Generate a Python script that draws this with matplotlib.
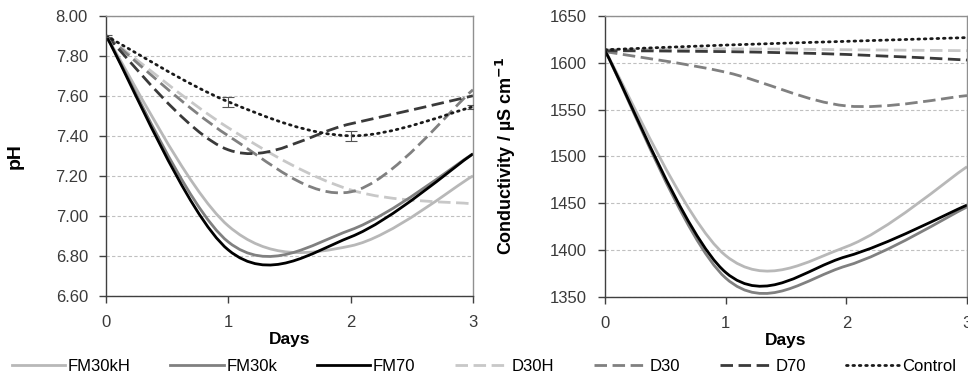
import matplotlib
matplotlib.use("Agg")
import matplotlib.pyplot as plt
from matplotlib.path import Path
from matplotlib.patches import PathPatch
from matplotlib.lines import Line2D

plt.rcParams['font.family'] = ['Liberation Sans', 'DejaVu Sans']

# data: sampling days and the measured values per treatment
days = [0, 1, 2, 3]
series = ['FM30kH', 'FM30k', 'FM70', 'D30H', 'D30', 'D70', 'Control']

ph = {
    'FM30kH': [7.90, 6.95, 6.85, 7.20],
    'FM30k': [7.90, 6.87, 6.93, 7.31],
    'FM70': [7.90, 6.83, 6.895, 7.31],
    'D30H': [7.90, 7.44, 7.13, 7.06],
    'D30': [7.90, 7.40, 7.12, 7.63],
    'D70': [7.90, 7.33, 7.46, 7.60],
    'Control': [7.90, 7.57, 7.40, 7.545],
}
ph_control_err = [0.005, 0.025, 0.025, 0.01]

cond = {
    'FM30kH': [1613, 1394, 1403.5, 1489],
    'FM30k': [1613, 1370, 1383, 1446],
    'FM70': [1613, 1376, 1393, 1448],
    'D30H': [1614, 1615, 1614, 1613],
    'D30': [1612, 1590, 1554, 1565],
    'D70': [1613, 1612, 1609, 1603],
    'Control': [1614, 1619, 1623, 1627],
}

styles = {
    'FM30kH': dict(color='#b8b8b8', ls='-'),
    'FM30k': dict(color='#808080', ls='-'),
    'FM70': dict(color='#000000', ls='-'),
    'D30H': dict(color='#c8c8c8', ls=(0, (4.5, 2))),
    'D30': dict(color='#808080', ls=(0, (4.5, 2))),
    'D70': dict(color='#3a3a3a', ls=(0, (4.5, 2))),
    'Control': dict(color='#1a1a1a', ls=(0, (0.6, 1.7))),
}
draw_order = ['D30H', 'D30', 'D70', 'FM30kH', 'FM30k', 'FM70', 'Control']
LW = 2.0


def smooth_path(x, y):
    # Excel-like smoothed line: cubic bezier through the points
    verts = [(x[0], y[0])]
    codes = [Path.MOVETO]
    n = len(x)
    for i in range(n - 1):
        i0 = max(i - 1, 0)
        i3 = min(i + 2, n - 1)
        c1 = (x[i] + (x[i + 1] - x[i0]) / 6, y[i] + (y[i + 1] - y[i0]) / 6)
        c2 = (x[i + 1] - (x[i3] - x[i]) / 6, y[i + 1] - (y[i3] - y[i]) / 6)
        verts += [c1, c2, (x[i + 1], y[i + 1])]
        codes += [Path.CURVE4] * 3
    return Path(verts, codes)


def draw_panel(ax, data, ylim, yticks, fmt):
    for name in draw_order:
        st = styles[name]
        patch = PathPatch(smooth_path(days, data[name]), fill=False,
                          edgecolor=st['color'], linestyle=st['ls'], lw=LW)
        if name == 'Control':
            patch.set_capstyle('round')
        ax.add_patch(patch)
    ax.set_xlim(0, 3)
    ax.set_ylim(*ylim)
    ax.set_xticks(days)
    ax.set_yticks(yticks)
    ax.set_yticklabels([fmt.format(v) for v in yticks])
    ax.yaxis.grid(True, color='#c0c0c0', lw=0.8, ls=(0, (3, 2)))
    ax.set_axisbelow(True)
    for s in ax.spines.values():
        s.set_color('#909090')
        s.set_linewidth(1.0)
    ax.spines['left'].set_color('#404040')
    ax.spines['bottom'].set_color('#404040')
    ax.tick_params(axis='both', labelsize=12, colors='#404040', labelcolor='#3a3a3a',
                   length=5, width=1.0, direction='out')
    ax.tick_params(axis='x', pad=9)
    ax.tick_params(axis='y', pad=8)
    ax.set_xlabel('Days', fontsize=12.5, fontweight='bold', labelpad=1)


fig = plt.figure(figsize=(9.68, 3.92), dpi=100)
ax1 = fig.add_axes([0.1095, 0.2449, 0.3791, 0.7151])
ax2 = fig.add_axes([0.625, 0.243, 0.374, 0.716])

draw_panel(ax1, ph, (6.6, 8.0), [6.6, 6.8, 7.0, 7.2, 7.4, 7.6, 7.8, 8.0], '{:.2f}')
ax1.errorbar(days, ph['Control'], yerr=ph_control_err, fmt='none',
             ecolor='#555555', elinewidth=0.8, capsize=4, capthick=0.8, zorder=5)
ax1.set_ylabel('pH', fontsize=14, fontweight='bold')
ax1.yaxis.set_label_coords(-0.225, 0.5)

draw_panel(ax2, cond, (1350, 1650), [1350, 1400, 1450, 1500, 1550, 1600, 1650], '{:.0f}')
ax2.set_ylabel('Conductivity / µS cm$^{\\mathbf{-1}}$', fontsize=13, fontweight='bold')
ax2.yaxis.set_label_coords(-0.24, 0.5)

handles = [Line2D([], [], color=styles[n]['color'], ls=styles[n]['ls'], lw=LW,
                  dash_capstyle='round' if n == 'Control' else 'butt')
           for n in series]
fig.legend(handles, series, loc='center', bbox_to_anchor=(0.5, 0.066), ncol=7,
           frameon=False, fontsize=12, handlelength=3.2, handletextpad=0.15,
           columnspacing=2.4)

fig.savefig('out.png', dpi=100)
